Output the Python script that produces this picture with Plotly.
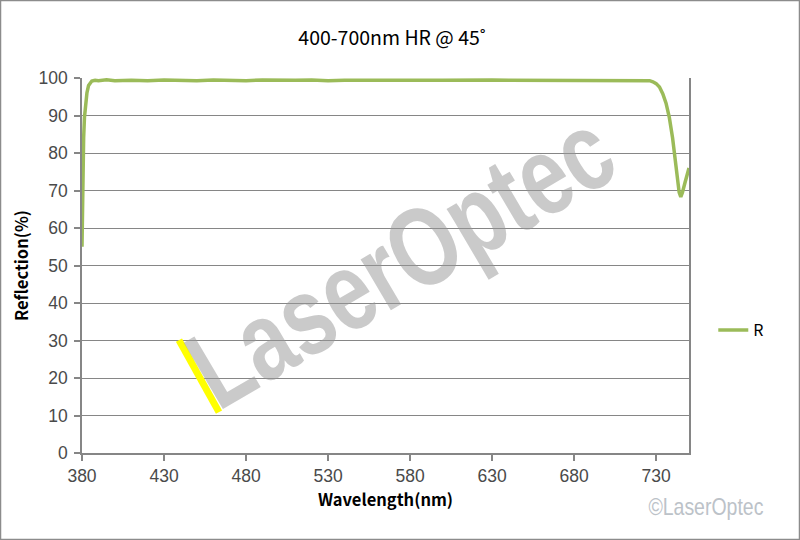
import plotly.graph_objects as go

# ---- data ----
wavelength = [380, 380.4, 381, 381.5, 382, 383, 384, 385, 386, 388, 390, 395, 400,
              410, 420, 430, 440, 450, 460, 470, 480, 490, 500, 510, 520, 530,
              540, 550, 560, 570, 580, 590, 600, 610, 620, 630, 640, 650, 660,
              670, 680, 690, 700, 710, 720, 726, 728, 730, 732, 734, 736, 738,
              740, 741.6, 743, 744, 745, 746, 747.5, 750]
reflection = [55, 73, 84, 89.5, 92.5, 96, 98, 98.8, 99.2, 99.4, 99.3, 99.5, 99.3,
              99.4, 99.3, 99.5, 99.4, 99.3, 99.5, 99.4, 99.3, 99.5, 99.4, 99.4, 99.5, 99.3,
              99.4, 99.5, 99.4, 99.4, 99.5, 99.4, 99.4, 99.5, 99.4, 99.5, 99.4, 99.4, 99.4,
              99.4, 99.4, 99.4, 99.3, 99.4, 99.4, 99.3, 99.0, 98.5, 97.6, 95.8, 93.3, 89.5,
              84, 78, 72, 69.5, 68.3, 69.5, 72, 76]
x_ticks = [380, 430, 480, 530, 580, 630, 680, 730]
y_ticks = [0, 10, 20, 30, 40, 50, 60, 70, 80, 90, 100]

title_text = "400-700nm HR @ 45˚"
x_title = "Wavelength(nm)"
y_title = "Reflection(%)"
series_name = "R"
watermark = "LaserOptec"
copyright_text = "©LaserOptec"

GREEN = "#9BBB59"
GRID = "#868686"
TICKFONT = dict(family="Liberation Sans, Arial, sans-serif", size=17.5, color="#4a4a4a")
CJK = "Noto Sans CJK SC, Noto Sans, sans-serif"

fig = go.Figure()
fig.add_trace(go.Scatter(
    x=wavelength, y=reflection, mode="lines", name=series_name,
    line=dict(color=GREEN, width=3.5),
))

fig.update_layout(
    width=800, height=540,
    paper_bgcolor="white", plot_bgcolor="white",
    margin=dict(l=82, r=111, t=78, b=87),
    title=dict(text=title_text, x=0.49, xanchor="center", y=0.93, yanchor="middle",
               font=dict(family=CJK, size=19.5, color="#000000")),
    showlegend=True,
    legend=dict(x=1.04, y=0.328, xanchor="left", yanchor="middle",
                font=dict(family=CJK, size=16, color="#000000"),
                bgcolor="rgba(0,0,0,0)", itemwidth=30),
    xaxis=dict(range=[380, 750], tickmode="array", tickvals=x_ticks,
               showgrid=False, showline=True, linecolor=GRID, linewidth=1.5,
               ticks="outside", ticklen=6, tickcolor=GRID, tickwidth=1.5,
               tickfont=TICKFONT, zeroline=False,
               title=dict(text=x_title, font=dict(family=CJK, size=16.5, color="#000000",
                                                  weight="bold"), standoff=10)),
    yaxis=dict(range=[0, 100], tickmode="array", tickvals=y_ticks,
               showgrid=True, gridcolor=GRID, gridwidth=1.2,
               showline=True, linecolor=GRID, linewidth=1.5, mirror=True,
               ticks="outside", ticklen=6, tickcolor=GRID, tickwidth=1.5,
               tickfont=TICKFONT, zeroline=False, ticklabelstandoff=3,
               title=dict(text=y_title, font=dict(family=CJK, size=16.5, color="#000000",
                                                  weight="bold"), standoff=6)),
)

# watermark (condensed via textLength in post script)
fig.add_annotation(
    text=watermark, xref="paper", yref="paper", x=0.526, y=0.515,
    xanchor="center", yanchor="middle",
    showarrow=False, textangle=-30.5,
    font=dict(family="Liberation Sans, Arial, sans-serif",
              size=112, color="rgba(150,150,150,0.5)", weight="bold"),
)
fig.add_shape(type="line", xref="x", yref="y", x0=439.1, y0=30.1, x1=463.5, y1=10.9,
              line=dict(color="#FFFF00", width=7))

# copyright
fig.add_annotation(
    text=copyright_text, xref="paper", yref="paper", x=1.028, y=-0.144,
    xanchor="center", yanchor="middle", showarrow=False,
    font=dict(family="Liberation Sans, Arial, sans-serif", size=24,
              color="#BCC2C8"),
)

# chart border
fig.add_shape(type="rect", xref="paper", yref="paper",
              x0=-82/607, x1=(800-82)/607, y0=-87/375, y1=(540-87)/375,
              line=dict(color="#8C8C8C", width=2.5))

post = """
document.body.style.margin = '0';
var gd = document.getElementById('{plot_id}');
gd.querySelectorAll('text.annotation-text').forEach(function (t) {
  var s = t.textContent;
  if (s === 'LaserOptec') {
    t.setAttribute('textLength', '470');
    t.setAttribute('lengthAdjust', 'spacingAndGlyphs');
  } else if (s === '\u00a9LaserOptec') {
    t.setAttribute('textLength', '115');
    t.setAttribute('lengthAdjust', 'spacingAndGlyphs');
  }
});
"""

fig.write_html("out.html", post_script=post, config={"displayModeBar": False})
